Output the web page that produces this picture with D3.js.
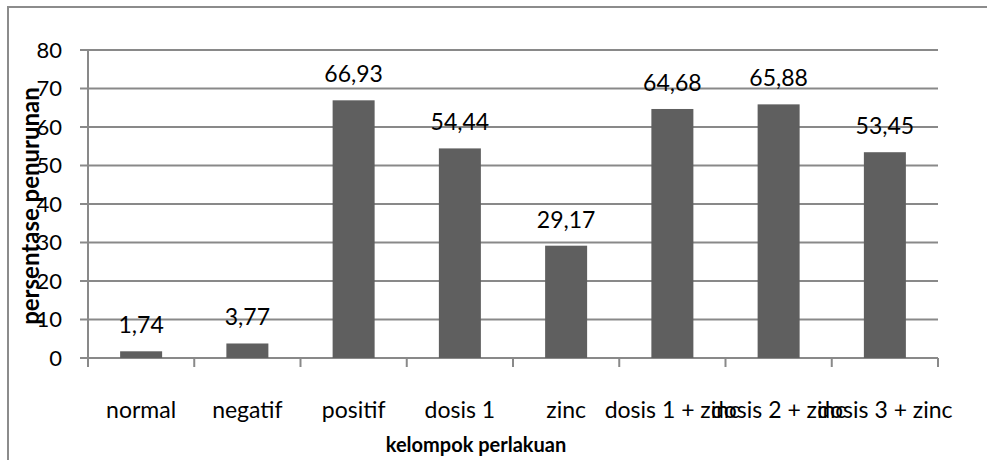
<!DOCTYPE html>
<html>
<head>
<meta charset="utf-8">
<script src="https://cdn.jsdelivr.net/npm/d3@7"></script>
<style>
  body { margin: 0; background: #fff; }
  svg { display: block; font-family: Lato, "Open Sans", sans-serif; }
</style>
</head>
<body>
<div id="chart"></div>
<script>
// Data
const categories = ["normal", "negatif", "positif", "dosis 1", "zinc",
                    "dosis 1 + zinc", "dosis 2 + zinc", "dosis 3 + zinc"];
const values = [1.74, 3.77, 66.93, 54.44, 29.17, 64.68, 65.88, 53.45];
const yTicks = [0, 10, 20, 30, 40, 50, 60, 70, 80];

const width = 987, height = 460;
const margin = { top: 50, left: 88, bottom: 102, right: 49 };

const svg = d3.select("#chart").append("svg")
    .attr("width", width)
    .attr("height", height);

// Outer frame (top and left edges visible)
svg.append("line").attr("x1", 8).attr("y1", 7).attr("x2", width).attr("y2", 7)
    .style("stroke", "#8c8c8c").style("stroke-width", 2);
svg.append("line").attr("x1", 8).attr("y1", 6).attr("x2", 8).attr("y2", height)
    .style("stroke", "#8c8c8c").style("stroke-width", 2);

let xGroup = d3.scaleBand()
    .domain(categories)
    .range([margin.left, width - margin.right]);

let y = d3.scaleLinear()
    .domain([0, 80])
    .range([height - margin.bottom, margin.top]);

// Gridlines
svg.append("g").selectAll("line")
    .data(yTicks)
  .enter().append("line")
    .attr("x1", margin.left - 8)
    .attr("x2", width - margin.right)
    .attr("y1", d => y(d))
    .attr("y2", d => y(d))
    .style("stroke", "#898989")
    .style("stroke-width", 2);

// Y axis line
svg.append("line")
    .attr("x1", margin.left).attr("x2", margin.left)
    .attr("y1", y(80)).attr("y2", y(0) + 9)
    .style("stroke", "#898989").style("stroke-width", 2);

// Category tick marks
svg.append("g").selectAll("line")
    .data(categories.concat([null]))
  .enter().append("line")
    .attr("x1", (d, i) => margin.left + i * xGroup.step())
    .attr("x2", (d, i) => margin.left + i * xGroup.step())
    .attr("y1", y(0))
    .attr("y2", y(0) + 9)
    .style("stroke", "#898989")
    .style("stroke-width", 2);

// Y tick labels
svg.append("g").selectAll("text")
    .data(yTicks)
  .enter().append("text")
    .attr("x", 62)
    .attr("y", d => y(d))
    .attr("dy", "0.36em")
    .attr("text-anchor", "end")
    .style("font-size", "22px")
    .style("fill", "#000")
    .text(d => d);

// Bars
svg.append("g").selectAll("rect")
    .data(values)
  .enter().append("rect")
    .attr("x", (d, i) => xGroup(categories[i]) + xGroup.bandwidth() / 2 - 21)
    .attr("width", 42)
    .attr("y", d => y(d))
    .attr("height", d => y(0) - y(d))
    .style("fill", "#5f5f5f");

// Value labels
const fmt = d => d.toFixed(2).replace(".", ",");
svg.append("g").selectAll("text")
    .data(values)
  .enter().append("text")
    .attr("x", (d, i) => xGroup(categories[i]) + xGroup.bandwidth() / 2)
    .attr("y", d => y(d) - 18)
    .attr("text-anchor", "middle")
    .style("font-size", "23px")
    .style("fill", "#000")
    .text(fmt);

// Category labels
svg.append("g").selectAll("text")
    .data(categories)
  .enter().append("text")
    .attr("x", d => xGroup(d) + xGroup.bandwidth() / 2)
    .attr("y", 418)
    .attr("text-anchor", "middle")
    .style("font-size", "23px")
    .style("fill", "#000")
    .text(d => d);

// Axis titles
svg.append("text")
    .attr("x", 476)
    .attr("y", 452)
    .attr("text-anchor", "middle")
    .style("font-size", "20px")
    .style("font-weight", "bold")
    .text("kelompok perlakuan");

svg.append("text")
    .attr("transform", "translate(39," + ((y(0) + y(80)) / 2 + 2) + ") rotate(-90)")
    .attr("text-anchor", "middle")
    .style("font-size", "24px")
    .style("font-weight", "bold")
    .text("persentase penurunan");
</script>
</body>
</html>
